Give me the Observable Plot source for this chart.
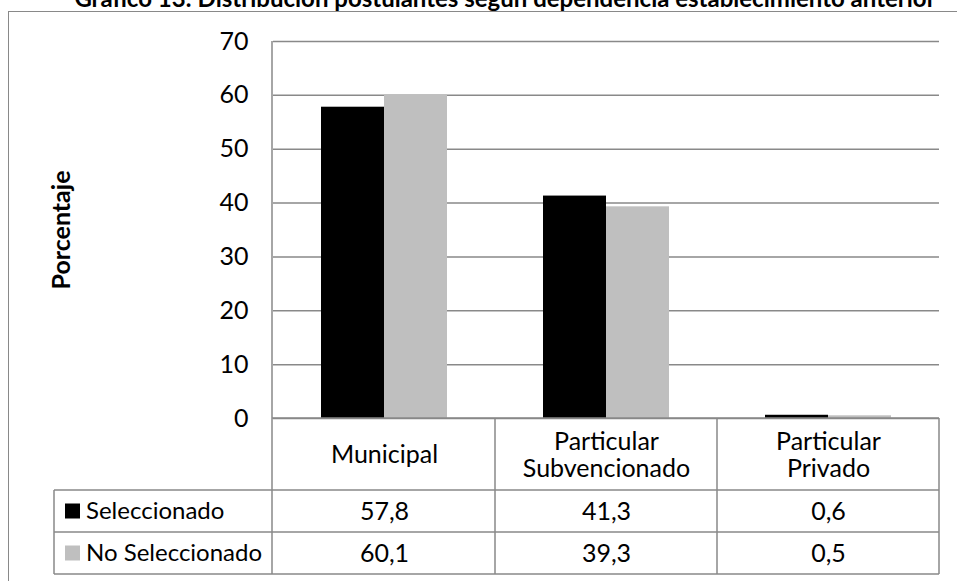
<!DOCTYPE html>
<html>
<head>
<meta charset="utf-8">
<script src="https://cdn.jsdelivr.net/npm/d3@7"></script>
<script src="https://cdn.jsdelivr.net/npm/@observablehq/plot@0.6"></script>
<style>
  html, body { margin: 0; padding: 0; background: #fff; width: 957px; height: 581px; overflow: hidden; }
  #wrap { position: relative; width: 957px; height: 581px; }
  #title { height: 11px; overflow: hidden; position: relative; font-family: Lato, sans-serif; font-weight: bold; font-size: 24px; color: #000; }
  #title span { position: absolute; left: 0; width: 1010px; text-align: center; top: -14px; line-height: 24px; white-space: nowrap; }
  #border { position: absolute; left: 8px; top: 11px; width: 2000px; height: 2000px; border-left: 1.5px solid #898989; border-top: 1.5px solid #898989; pointer-events: none; }
  #chart svg { display: block; }
</style>
</head>
<body>
<div id="wrap">
  <div id="title"><span>Gráfico 13: Distribución postulantes según dependencia establecimiento anterior</span></div>
  <div id="chart"></div>
  <div id="border"></div>
</div>
<script>
const categories = ["Municipal", "Particular\nSubvencionado", "Particular\nPrivado"];
const series = ["Seleccionado", "No Seleccionado"];
const seleccionado = [57.8, 41.3, 0.6];
const noSeleccionado = [60.1, 39.3, 0.5];
const yTicks = [0, 10, 20, 30, 40, 50, 60, 70];
const colors = ["#000000", "#bfbfbf"];
const yLabel = "Porcentaje";

const values = [seleccionado, noSeleccionado];
const rows = categories.flatMap((c, i) => series.map((s, j) => ({cat: c, serie: s, value: values[j][i]})));
const fmt = v => d3.format(".1f")(v).replace(".", ",");

const lineColor = "#898989";
const lineW = 1.5;
const W = 957, H = 570, mTop = 30, mBottom = 163, mLeft = 272, mRight = 17;

// table geometry (pixels below the plot frame)
const headerH = 72, rowH = 42, legendLeft = 54;

const chart = Plot.plot({
  width: W,
  height: H,
  marginTop: mTop,
  marginBottom: mBottom,
  marginLeft: mLeft,
  marginRight: mRight,
  style: {fontFamily: "Lato, sans-serif", fontSize: "25px", color: "#000", background: "#fff", overflow: "visible"},
  fx: {domain: categories, padding: 0, axis: null, label: null},
  x: {domain: series, paddingInner: 0, paddingOuter: 0.753, axis: null},
  y: {domain: [0, 70], ticks: yTicks, label: null},
  color: {domain: series, range: colors},
  marks: [
    Plot.gridY(yTicks, {stroke: lineColor, strokeOpacity: 1, strokeWidth: lineW}),
    Plot.axisY(yTicks, {tickSize: 0, tickPadding: 25, label: null, fontSize: 25}),
    Plot.barY(rows, {fx: "cat", x: "serie", y: "value", fill: "serie"}),
    Plot.text(categories, {fx: d => d, x: null, y: null, text: d => d, frameAnchor: "bottom", lineAnchor: "middle", dy: headerH / 2, lineHeight: 1.1, fill: "#000"}),
    ...series.map((s, j) => Plot.text(categories, {fx: d => d, x: null, y: null, text: (d, i) => fmt(values[j][i]), frameAnchor: "bottom", lineAnchor: "middle", dy: headerH + rowH * j + rowH / 2, fill: "#000"})),
    Plot.text([yLabel], {facet: "super", x: null, y: null, text: d => d, frameAnchor: "left", textAnchor: "middle", lineAnchor: "middle", dx: -212, rotate: -90, fontWeight: "bold", fontSize: 25, fill: "#000"})
  ]
});

// data-table grid and legend column, positioned with the plot's own fx and color scales
(function drawTable() {
  const fxS = chart.scale("fx");
  const colorS = chart.scale("color");
  const dom = fxS.domain;
  const bounds = [...dom.map(d => fxS.apply(d)), fxS.apply(dom[dom.length - 1]) + fxS.bandwidth];
  const yb = H - mBottom;
  const yEnd = yb + headerH + rowH * series.length;
  const xr = bounds[bounds.length - 1];
  const g = d3.select(chart).append("g")
    .attr("stroke", lineColor).attr("stroke-width", lineW).attr("fill", "none").attr("text-anchor", "start");
  g.append("line").attr("x1", mLeft).attr("x2", mLeft).attr("y1", mTop).attr("y2", yEnd);
  bounds.slice(1).forEach(x => g.append("line").attr("x1", x).attr("x2", x).attr("y1", yb).attr("y2", yEnd));
  g.append("line").attr("x1", mLeft).attr("x2", xr).attr("y1", yb).attr("y2", yb);
  for (let r = 0; r <= series.length; r++) {
    const y = yb + headerH + rowH * r;
    g.append("line").attr("x1", legendLeft).attr("x2", xr).attr("y1", y).attr("y2", y);
  }
  g.append("line").attr("x1", legendLeft).attr("x2", legendLeft).attr("y1", yb + headerH).attr("y2", yEnd);
  series.forEach((s, j) => {
    const cy = yb + headerH + rowH * j + rowH / 2;
    g.append("rect").attr("x", legendLeft + 11).attr("y", cy - 7.5).attr("width", 15).attr("height", 15)
      .attr("fill", colorS.apply(s)).attr("stroke", "none");
    g.append("text").attr("x", legendLeft + 32).attr("y", cy).attr("dy", "0.35em")
      .attr("fill", "#000").attr("stroke", "none").attr("text-anchor", "start").attr("font-size", 24).text(s);
  });
})();

document.getElementById("chart").appendChild(chart);
</script>
</body>
</html>
